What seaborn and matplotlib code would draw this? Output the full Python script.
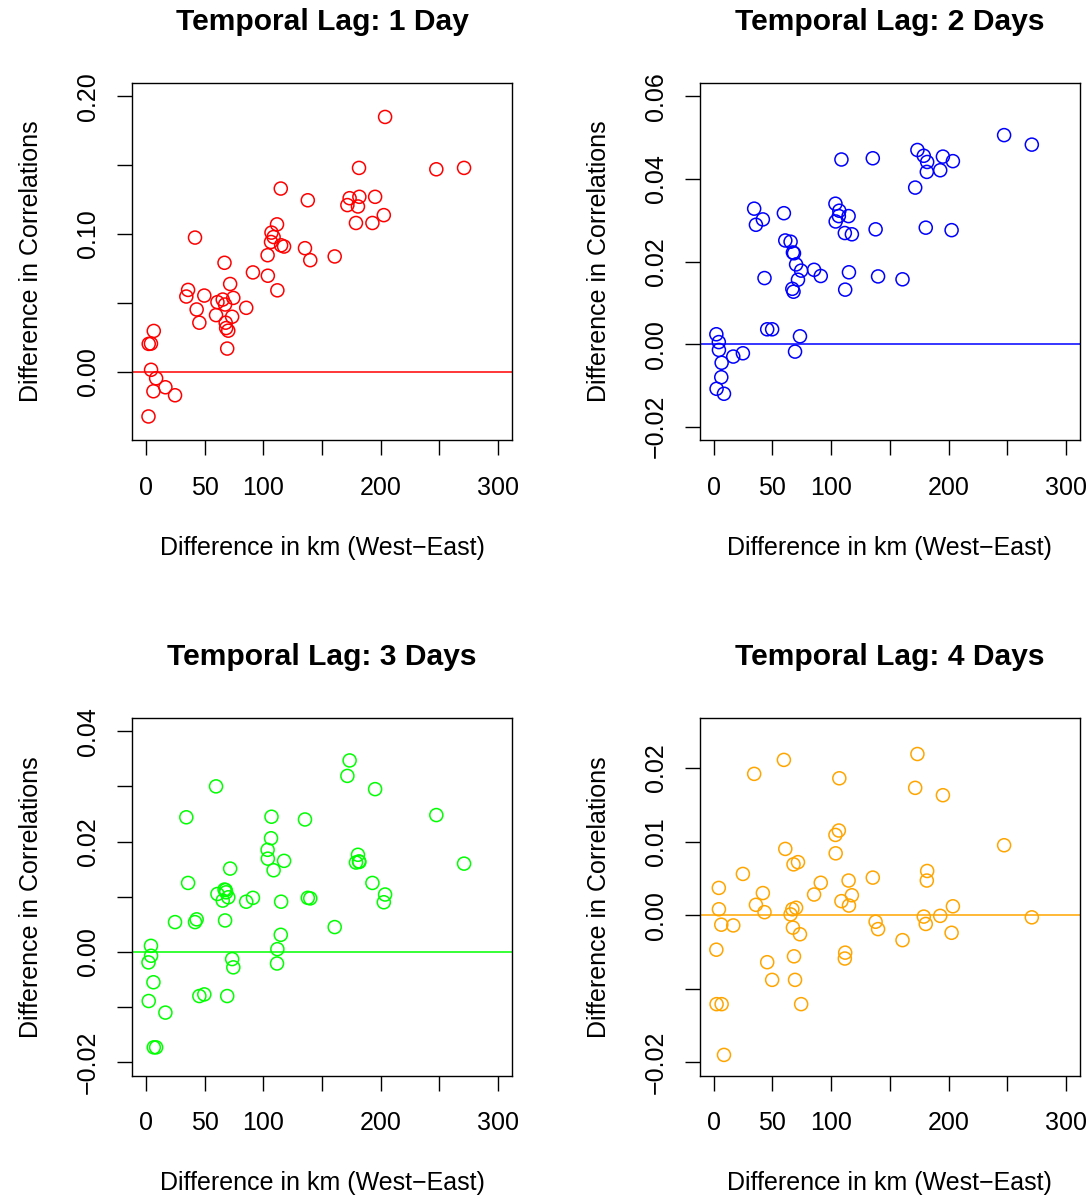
import numpy as np
import pandas as pd
import seaborn as sns
import matplotlib
matplotlib.use("Agg")
import matplotlib.pyplot as plt

# distance in km (West-East), shared by all four panels
x_km = [2.3, 2.5, 4.4, 4.5, 6.5, 6.8, 8.8, 16.7, 24.9, 34.5, 36.0, 41.9, 43.3, 45.6,
        49.8, 59.8, 61.0, 65.5, 67.0, 67.5, 68.0, 68.4, 69.3, 70.2, 71.8, 73.5, 74.5,
        85.5, 91.2, 103.7, 103.9, 106.6, 107.0, 108.8, 111.7, 112.0, 114.9, 115.2,
        117.7, 135.5, 137.9, 140.0, 160.8, 171.6, 173.5, 178.9, 180.6, 181.5, 181.8,
        192.9, 195.2, 202.6, 203.7, 247.3, 270.9]

# difference in correlations for each temporal lag
lag1 = [-0.0325, 0.0202, 0.0204, 0.0014, -0.0142, 0.0296, -0.0048, -0.0113, -0.0171,
        0.0546, 0.0594, 0.0974, 0.0452, 0.0356, 0.0553, 0.0411, 0.0505, 0.0524, 0.0791,
        0.0488, 0.0356, 0.0317, 0.0168, 0.0298, 0.0637, 0.0399, 0.0536, 0.0464, 0.0721,
        0.0846, 0.0697, 0.0942, 0.101, 0.0978, 0.107, 0.0591, 0.133, 0.0918, 0.0909,
        0.0897, 0.1245, 0.081, 0.0837, 0.121, 0.126, 0.108, 0.120, 0.148, 0.127,
        0.108, 0.127, 0.1137, 0.185, 0.147, 0.148]
lag2 = [0.0024, -0.0108, 0.0005, -0.0014, -0.008, -0.0045, -0.012, -0.003, -0.0022,
        0.0328, 0.0289, 0.0302, 0.016, 0.0036, 0.0036, 0.0317, 0.0251, 0.0248, 0.0134,
        0.0222, 0.0127, 0.022, -0.0018, 0.0193, 0.0156, 0.0019, 0.0178, 0.018, 0.0165,
        0.034, 0.0297, 0.031, 0.0323, 0.0447, 0.0269, 0.0132, 0.031, 0.0174, 0.0266,
        0.045, 0.0278, 0.0164, 0.0157, 0.0379, 0.047, 0.0456, 0.0282, 0.0417, 0.0441,
        0.0421, 0.0454, 0.0276, 0.0443, 0.0506, 0.0483]
lag3 = [-0.0019, -0.0089, 0.0011, -0.0007, -0.0055, -0.0173, -0.0173, -0.011, 0.0054,
        0.0244, 0.0125, 0.0054, 0.0059, -0.008, -0.0077, 0.030, 0.0105, 0.0093, 0.0113,
        0.0057, 0.0112, 0.0108, -0.008, 0.0099, 0.0151, -0.0013, -0.0028, 0.0091, 0.0098,
        0.0185, 0.0169, 0.0206, 0.0245, 0.0148, -0.0021, 0.0005, 0.0031, 0.0091, 0.0165,
        0.024, 0.0098, 0.0097, 0.0045, 0.0319, 0.0347, 0.0162, 0.0176, 0.0164, 0.0163,
        0.0125, 0.0295, 0.009, 0.0104, 0.0248, 0.016]
lag4 = [-0.0047, -0.0121, 0.0037, 0.0008, -0.0013, -0.0121, -0.019, -0.0014, 0.0056,
        0.0192, 0.0014, 0.003, 0.0004, -0.0064, -0.0088, 0.0211, 0.009, 0.0001, 0.0008,
        -0.0017, 0.0069, -0.0056, -0.0088, 0.001, 0.0072, -0.0026, -0.0121, 0.0028, 0.0044,
        0.0109, 0.0084, 0.0115, 0.0186, 0.0019, -0.0059, -0.0051, 0.0047, 0.0013, 0.0027,
        0.0051, -0.0009, -0.0019, -0.0034, 0.0173, 0.0219, -0.0002, -0.0012, 0.0047, 0.006,
        -0.0001, 0.0163, -0.0024, 0.0012, 0.0095, -0.0003]

titles = ["Temporal Lag: 1 Day", "Temporal Lag: 2 Days",
          "Temporal Lag: 3 Days", "Temporal Lag: 4 Days"]
colors = ["#FF0000", "#0000FF", "#00FF00", "#FFA500"]

x_ticks = [0, 50, 100, 150, 200, 250, 300]
x_ticklabels = ["0", "50", "100", "", "200", "", "300"]

y_ticks = [[0.0, 0.05, 0.10, 0.15, 0.20],
           [-0.02, 0.0, 0.02, 0.04, 0.06],
           [-0.02, -0.01, 0.0, 0.01, 0.02, 0.03, 0.04],
           [-0.02, -0.01, 0.0, 0.01, 0.02]]
y_ticklabels = [["0.00", "", "0.10", "", "0.20"],
                ["\u22120.02", "0.00", "0.02", "0.04", "0.06"],
                ["\u22120.02", "", "0.00", "", "0.02", "", "0.04"],
                ["\u22120.02", "", "0.00", "0.01", "0.02"]]
y_limits = [(-0.0496, 0.2096), (-0.0232, 0.0632), (-0.0224, 0.0424), (-0.0218, 0.0268)]

sns.set_theme(style="ticks")
plt.rcParams['font.family'] = ['Liberation Sans', 'DejaVu Sans']

fig = plt.figure(figsize=(10.91, 11.97), dpi=100)

positions = [[0.1207, 0.6324, 0.3489, 0.2982],
             [0.6412, 0.6324, 0.3488, 0.2982],
             [0.1207, 0.1015, 0.3489, 0.2987],
             [0.6412, 0.1015, 0.3488, 0.2987]]

series = [lag1, lag2, lag3, lag4]

for i in range(4):
    ax = fig.add_axes(positions[i])
    df = pd.DataFrame({'km': x_km, 'corr': series[i]})
    sns.scatterplot(data=df, x='km', y='corr', ax=ax, marker='o', s=88,
                    facecolors='none', edgecolor=colors[i], linewidth=1.1)
    ax.axhline(0, color=colors[i], linewidth=1.1, zorder=1)

    ax.set_xlim(-12, 312)
    ax.set_ylim(*y_limits[i])
    ax.set_xticks(x_ticks)
    ax.set_xticklabels(x_ticklabels)
    ax.set_yticks(y_ticks[i])
    ax.set_yticklabels(y_ticklabels[i], rotation=90, va='center')

    ax.tick_params(axis='both', direction='out', length=10.8, width=1.0,
                   color='black', labelsize=18, labelcolor='black')
    ax.tick_params(axis='x', pad=15)
    ax.tick_params(axis='y', pad=12)
    for sp in ax.spines.values():
        sp.set_visible(True)
        sp.set_color('black')
        sp.set_linewidth(1.0)

    ax.set_xlabel("Difference in km (West\u2212East)", fontsize=18, color='black')
    ax.set_ylabel("Difference in Correlations", fontsize=18, color='black')
    ax.xaxis.label.set_va('center')
    ax.yaxis.label.set_va('center')
    ax.xaxis.set_label_coords(0.5, -0.302)
    ax.yaxis.set_label_coords(-0.265, 0.5)

    ax.set_title(titles[i], y=1.171, pad=0, va='center', fontsize=21.6,
                 fontweight='bold', color='black')
    ax.grid(False)

plt.savefig('out.png', dpi=100)
